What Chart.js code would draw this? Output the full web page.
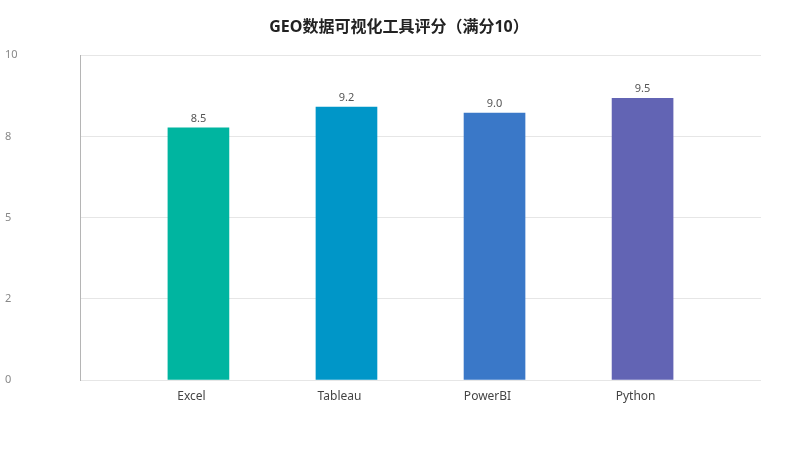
<!DOCTYPE html>
<html>
<head>
<meta charset="utf-8">
<title>GEO数据可视化工具评分</title>
<script src="https://cdn.jsdelivr.net/npm/chart.js@4"></script>
<style>
  html, body { margin: 0; padding: 0; background: #fff; }
  #wrap { width: 800px; height: 450px; position: relative; }
</style>
</head>
<body>
<div id="wrap"><canvas id="myChart"></canvas></div>
<script>
const categories = ["Excel", "Tableau", "PowerBI", "Python"];
const scores = [8.5, 9.2, 9.0, 9.5];
const barColors = ["#00B5A0", "#0096C8", "#3A78C8", "#6264B4"];
const yTickLabels = ["0", "2", "5", "8", "10"];
const yMax = 10.95; // top of the axis as drawn in the picture

const fontFamily = '"Noto Sans", "Noto Sans CJK SC", sans-serif';

// prints the score above each bar
const valueLabels = {
  id: "valueLabels",
  afterDatasetsDraw(chart) {
    const ctx = chart.ctx;
    const meta = chart.getDatasetMeta(0);
    ctx.save();
    ctx.font = "11px " + fontFamily;
    ctx.fillStyle = "#555";
    ctx.textAlign = "center";
    ctx.textBaseline = "middle";
    meta.data.forEach((bar, i) => {
      ctx.fillText(scores[i].toFixed(1), bar.x, bar.y - 9);
    });
    ctx.restore();
  }
};

try {
  new Chart(document.getElementById("myChart"), {
    type: "bar",
    data: {
      datasets: [
        {
          data: scores.map((v, i) => ({ x: i, y: v })),
          backgroundColor: barColors,
          borderWidth: 0,
          barThickness: 61
        }
      ]
    },
    options: {
      responsive: true,
      maintainAspectRatio: false,
      animation: false,
      layout: { padding: { left: 5, right: 7, top: 0, bottom: 40 } },
      plugins: {
        legend: { display: false },
        tooltip: { enabled: false },
        title: {
          display: true,
          text: "GEO数据可视化工具评分（满分10）",
          color: "#222",
          font: { family: fontFamily, size: 16, weight: "bold" },
          padding: { top: 18, bottom: 18 }
        }
      },
      scales: {
        x: {
          type: "linear",
          offset: false,
          min: -0.8,
          max: 3.8,
          afterBuildTicks: (axis) => {
            axis.ticks = categories.map((c, i) => ({ value: i }));
          },
          afterFit: (axis) => { axis.height = 30; },
          grid: { display: false, drawTicks: false, offset: false },
          border: { display: false },
          ticks: {
            padding: 9,
            labelOffset: -7,
            color: "#444",
            font: { family: fontFamily, size: 12 },
            callback: (v) => categories[v]
          }
        },
        y: {
          min: 0,
          max: yMax,
          afterBuildTicks: (axis) => {
            axis.ticks = yTickLabels.map((t, i) => ({ value: (yMax * i) / 4 }));
          },
          afterFit: (axis) => { axis.width = 75; },
          grid: { color: "#e6e6e6", drawTicks: false },
          border: { display: true, color: "#b5b5b5" },
          ticks: {
            crossAlign: "far",
            padding: 0,
            color: "#888",
            font: { family: fontFamily, size: 11 },
            callback: (v, i) => yTickLabels[i]
          }
        },
        // empty right-hand axis, only reserves the blank margin on the right
        yRight: {
          position: "right",
          afterFit: (axis) => { axis.width = 32; },
          grid: { display: false, drawTicks: false },
          border: { display: false },
          ticks: { display: false }
        }
      }
    },
    plugins: [valueLabels]
  });
} catch (error) {
  console.error("Error:", error);
}
</script>
</body>
</html>
